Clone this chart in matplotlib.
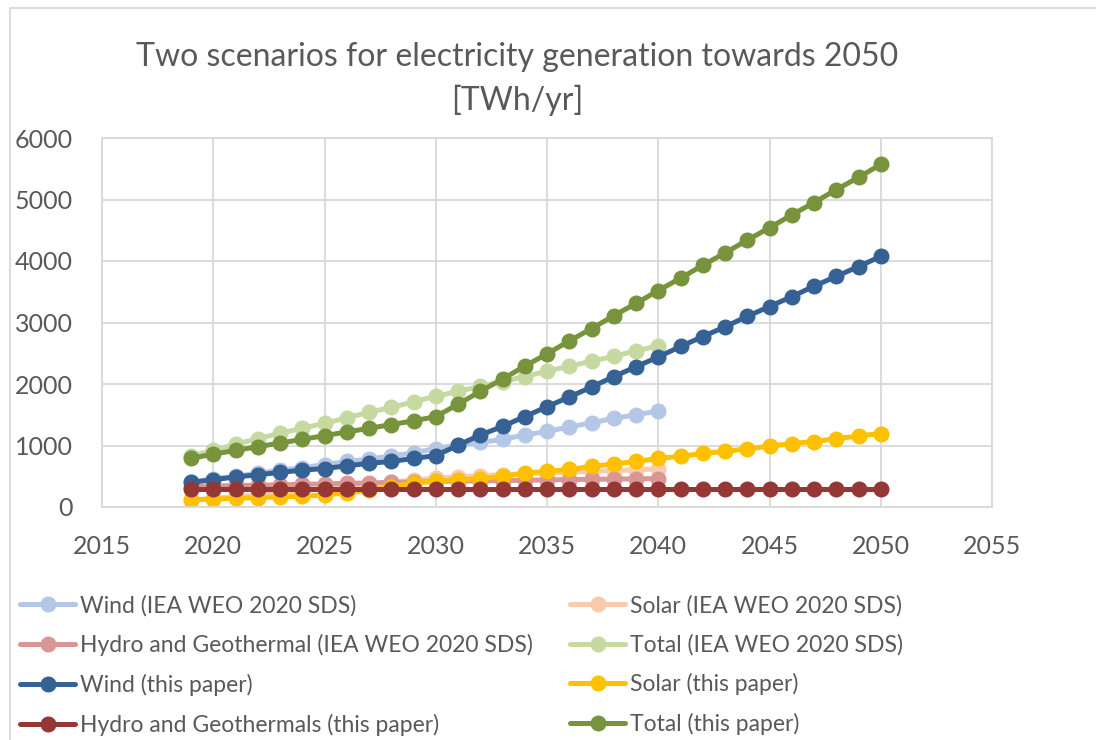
import numpy as np
import matplotlib
matplotlib.use('Agg')
from matplotlib import pyplot as plt
from matplotlib.patches import Rectangle

plt.rcParams['font.family'] = ['Lato', 'DejaVu Sans']

years_iea = list(range(2019, 2041))
years_paper = list(range(2019, 2051))

wind_iea = [400, 460, 500, 550, 600, 640, 690, 740, 780, 830, 880, 950,
            1010, 1050, 1100, 1170, 1230, 1300, 1370, 1440, 1500, 1560]
solar_iea = [110, 140, 170, 200, 230, 260, 300, 330, 370, 400, 440, 470,
             490, 510, 525, 540, 555, 565, 580, 590, 605, 620]
hydro_iea = [330, 340, 350, 355, 360, 370, 375, 385, 390, 400, 405, 415,
             420, 425, 430, 435, 440, 445, 450, 455, 458, 462]
total_iea = [830, 920, 1020, 1110, 1200, 1280, 1360, 1450, 1540, 1620, 1710, 1800,
             1880, 1960, 2040, 2120, 2210, 2290, 2370, 2450, 2540, 2620]

wind_paper = [400, 445, 487, 525, 562, 600, 625, 670, 710, 740, 790, 835,
              1005, 1170, 1310, 1470, 1630, 1790, 1950, 2120, 2280, 2440,
              2610, 2770, 2930, 3100, 3260, 3420, 3590, 3750, 3910, 4075]
solar_paper = [120, 125, 145, 150, 165, 175, 195, 230, 270, 330, 390, 420,
               445, 460, 500, 550, 580, 610, 660, 700, 740, 790,
               825, 870, 905, 945, 990, 1030, 1065, 1110, 1155, 1195]
hydro_paper = [300] * 32
total_paper = [790, 860, 920, 980, 1040, 1100, 1160, 1220, 1280, 1340, 1400, 1470,
               1670, 1880, 2080, 2290, 2490, 2700, 2900, 3110, 3310, 3520,
               3720, 3930, 4130, 4340, 4540, 4750, 4950, 5160, 5360, 5570]

series = [
    (years_iea, wind_iea, 'Wind (IEA WEO 2020 SDS)', '#b4c7e7'),
    (years_iea, solar_iea, 'Solar (IEA WEO 2020 SDS)', '#f8cbad'),
    (years_iea, hydro_iea, 'Hydro and Geothermal (IEA WEO 2020 SDS)', '#da9694'),
    (years_iea, total_iea, 'Total (IEA WEO 2020 SDS)', '#c5d9a0'),
    (years_paper, wind_paper, 'Wind (this paper)', '#356195'),
    (years_paper, solar_paper, 'Solar (this paper)', '#ffc000'),
    (years_paper, hydro_paper, 'Hydro and Geothermals (this paper)', '#953735'),
    (years_paper, total_paper, 'Total (this paper)', '#77933c'),
]

fig = plt.figure(figsize=(10.96, 7.4), dpi=100)
ax = fig.add_axes([102 / 1096, 1 - 507 / 740, 890 / 1096, 369 / 740])

handles = []
for x, y, label, color in series:
    h, = ax.plot(x, y, color=color, lw=3.6, marker='o', ms=10.5, label=label,
                 solid_capstyle='round')
    handles.append(h)

grey = '#595959'
ax.set_xlim(2015, 2055)
ax.set_ylim(0, 6000)
ax.set_xticks(range(2015, 2056, 5))
ax.set_yticks(range(0, 6001, 1000))
ax.grid(color='#d9d9d9', lw=1.3)
ax.set_axisbelow(True)
for s in ax.spines.values():
    s.set_color('#d9d9d9')
    s.set_linewidth(1.3)
ax.tick_params(length=0, labelsize=18, labelcolor=grey)
ax.tick_params(axis='y', pad=21)
ax.tick_params(axis='x', pad=20)

fig.text(517 / 1096, 1 - 57 / 740, 'Two scenarios for electricity generation towards 2050',
         ha='center', va='center', fontsize=23, color=grey)
fig.text(517 / 1096, 1 - 100 / 740, '[TWh/yr]',
         ha='center', va='center', fontsize=23, color=grey)

leg_kw = dict(frameon=False, fontsize=16.5, handlelength=2.4, handletextpad=0.2,
              labelspacing=0.77, labelcolor=grey, borderaxespad=0, borderpad=0)
fig.legend([handles[i] for i in (0, 2, 4, 6)], [series[i][2] for i in (0, 2, 4, 6)],
           loc='upper left', bbox_to_anchor=(20 / 1096, 1 - 595 / 740), **leg_kw)
fig.legend([handles[i] for i in (1, 3, 5, 7)], [series[i][2] for i in (1, 3, 5, 7)],
           loc='upper left', bbox_to_anchor=(570 / 1096, 1 - 595 / 740), **leg_kw)

fig.patches.append(Rectangle((10 / 1096, -0.1), 1.2, 1 - 8 / 740 + 0.1,
                             transform=fig.transFigure, fill=False,
                             edgecolor='#d9d9d9', lw=1.3))

fig.savefig('out.png', dpi=100)
